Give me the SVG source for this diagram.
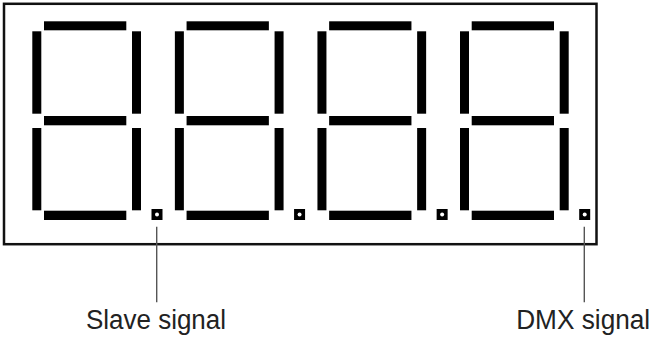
<svg xmlns="http://www.w3.org/2000/svg" xmlns:xlink="http://www.w3.org/1999/xlink" width="653" height="338" viewBox="0 0 653 338">
  <style>
    .frame { fill: none; stroke: #111; stroke-width: 2.5; }
    .seg { fill: #000; }
    .dp { fill: #000; }
    .dph { fill: #fff; }
    .lead { stroke: #555; stroke-width: 1.4; fill: none; }
    .lbl { font-family: "Liberation Sans", Arial, sans-serif; font-size: 27px; fill: #222; text-anchor: middle; }
  </style>
  <defs>
    <g id="digit">
      <rect class="seg" x="44" y="21.3" width="82.3" height="9"/>
      <rect class="seg" x="44" y="116" width="82.3" height="9.3"/>
      <rect class="seg" x="44" y="210.7" width="82.3" height="9.3"/>
      <rect class="seg" x="32.3" y="31.3" width="9" height="82.4"/>
      <rect class="seg" x="132" y="31.3" width="9" height="82.4"/>
      <rect class="seg" x="32.3" y="128" width="9" height="82.3"/>
      <rect class="seg" x="132" y="128" width="9" height="82.3"/>
      <rect class="dp" x="151.5" y="209" width="11" height="11"/>
      <circle class="dph" cx="157" cy="214.5" r="2"/>
    </g>
  </defs>
  <rect width="653" height="338" fill="#fff"/>
  <g id="display">
    <rect class="frame" x="4" y="3.8" width="592.5" height="240.4"/>
  </g>
  <g id="digit1"><use xlink:href="#digit" href="#digit"/></g>
  <g id="digit2"><use xlink:href="#digit" href="#digit" x="142.57"/></g>
  <g id="digit3"><use xlink:href="#digit" href="#digit" x="285.14"/></g>
  <g id="digit4"><use xlink:href="#digit" href="#digit" x="427.7"/></g>
  <g id="connectors">
    <line class="lead" x1="156.7" y1="226.7" x2="156.7" y2="302.3"/>
    <line class="lead" x1="584.3" y1="226.7" x2="584.3" y2="302.3"/>
  </g>
  <g id="label-slave"><text class="lbl" x="156" y="329.3" textLength="140" lengthAdjust="spacingAndGlyphs">Slave signal</text></g>
  <g id="label-dmx"><text class="lbl" x="583.2" y="329.3" textLength="134" lengthAdjust="spacingAndGlyphs">DMX signal</text></g>
</svg>
